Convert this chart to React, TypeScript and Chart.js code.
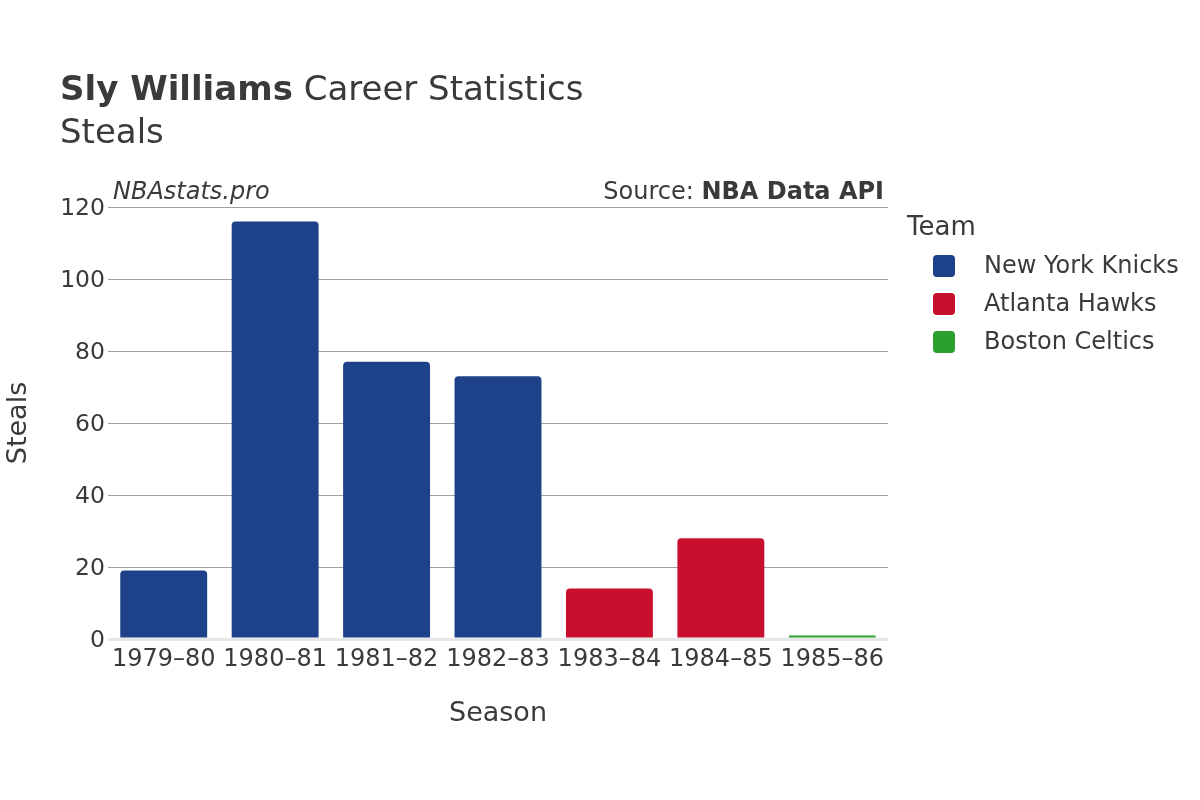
import React, { useEffect, useRef } from "react";
import { Chart, registerables } from "chart.js";

Chart.register(...registerables);

const seasons = ["1979–80", "1980–81", "1981–82", "1982–83", "1983–84", "1984–85", "1985–86"];
const knicks = [19, 116, 77, 73, null, null, null];
const hawks = [null, null, null, null, 14, 28, null];
const celtics = [null, null, null, null, null, null, 1];
const teamNames = ["New York Knicks", "Atlanta Hawks", "Boston Celtics"];
const teamColors = ["#1d428a", "#c8102e", "#2ca02c"];
const yTicks = [0, 20, 40, 60, 80, 100, 120];

const FONT = "'DejaVu Sans', sans-serif";
const TEXT = "#3a3a3a";

const overlay = {
  id: "overlay",
  afterDraw(chart: any) {
    const ctx = chart.ctx;
    const area = chart.chartArea;
    ctx.save();
    ctx.fillStyle = TEXT;
    ctx.textBaseline = "alphabetic";
    ctx.textAlign = "left";
    // Title
    ctx.font = `bold 34px ${FONT}`;
    const bold = "Sly Williams";
    ctx.fillText(bold, 60, 100);
    const w = ctx.measureText(bold).width;
    ctx.font = `34px ${FONT}`;
    ctx.fillText(" Career Statistics", 60 + w, 100);
    ctx.fillText("Steals", 60, 143);
    // Annotations
    ctx.textBaseline = "middle";
    ctx.font = `italic 24px ${FONT}`;
    ctx.fillText("NBAstats.pro", area.left + 5, 193);
    ctx.textAlign = "right";
    ctx.font = `bold 24px ${FONT}`;
    const src = "NBA Data API";
    ctx.fillText(src, area.right - 4, 193);
    const sw = ctx.measureText(src).width;
    ctx.font = `24px ${FONT}`;
    ctx.fillText("Source: ", area.right - 4 - sw, 193);
    // Legend
    ctx.textAlign = "left";
    ctx.font = `26px ${FONT}`;
    ctx.fillText("Team", 907, 228);
    ctx.font = `24px ${FONT}`;
    chart.data.datasets.forEach((ds: any, i: number) => {
      const cy = 266 + i * 38;
      ctx.fillStyle = ds.backgroundColor;
      ctx.beginPath();
      (ctx as any).roundRect(933, cy - 11, 22, 22, 4);
      ctx.fill();
      ctx.fillStyle = TEXT;
      ctx.fillText(ds.label, 984, cy + 1);
    });
    ctx.restore();
  },
};

export default function App() {
  const ref = useRef<HTMLCanvasElement>(null);
  useEffect(() => {
    if (!ref.current) return;
    const series = [knicks, hawks, celtics];
    const chart = new Chart(ref.current, {
      type: "bar",
      data: {
        labels: seasons,
        datasets: series.map((d, i) => ({
          label: teamNames[i],
          data: d,
          backgroundColor: teamColors[i],
          borderRadius: { topLeft: 4, topRight: 4, bottomLeft: 0, bottomRight: 0 },
          borderSkipped: false,
          grouped: false,
          barPercentage: 0.78,
          categoryPercentage: 1,
        })),
      },
      options: {
        animation: false,
        responsive: false,
        layout: { padding: { top: 207, right: 312, bottom: 70, left: 0 } },
        plugins: { legend: { display: false }, title: { display: false }, tooltip: { enabled: false } },
        scales: {
          x: {
            grid: { display: false },
            border: { display: false },
            ticks: { color: TEXT, font: { family: FONT, size: 24 }, padding: -2, maxRotation: 0 },
            title: { display: true, text: "Season", color: TEXT, font: { family: FONT, size: 27 }, padding: 0 },
            afterFit: (s: any) => { s.height = 91; },
          },
          y: {
            min: 0,
            max: 120,
            afterBuildTicks: (s: any) => { s.ticks = yTicks.map((v) => ({ value: v })); },
            grid: {
              drawTicks: false,
              color: (c: any) => (c.tick && c.tick.value === 0 ? "#e6e6e6" : "#a0a0a0"),
              lineWidth: (c: any) => (c.tick && c.tick.value === 0 ? 3 : 1),
            },
            border: { display: false },
            ticks: { color: TEXT, font: { family: FONT, size: 23.5 }, padding: 3, labelOffset: 2 },
            title: { display: true, text: "Steals", color: TEXT, font: { family: FONT, size: 27 }, padding: { top: 3, bottom: 0 } },
            afterFit: (s: any) => { s.width = 108; },
          },
        },
      },
      plugins: [overlay],
    });
    return () => chart.destroy();
  }, []);
  return (
    <div style={{ position: "absolute", left: 0, top: 0, width: 1200, height: 800, background: "#fff" }}>
      <canvas ref={ref} width={1200} height={800} style={{ width: 1200, height: 800 }} />
    </div>
  );
}
